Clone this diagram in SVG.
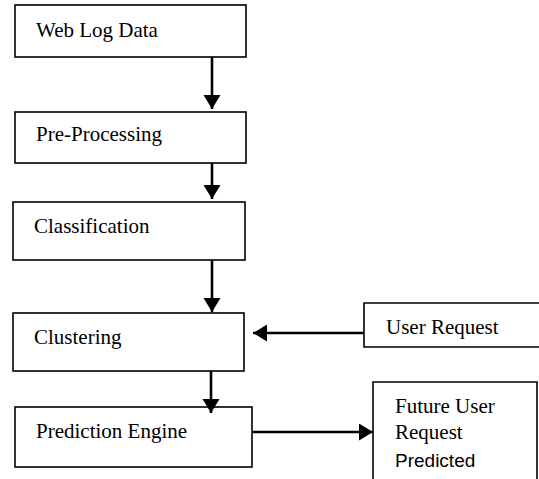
<svg xmlns="http://www.w3.org/2000/svg" width="539" height="479" viewBox="0 0 539 479">
  <style>
    .box { fill: #fff; stroke: #000; stroke-width: 1.6; }
    .lbl { font-family: "Liberation Serif", "Times New Roman", serif; font-size: 21px; fill: #000; }
    .sans { font-family: "Liberation Sans", Arial, sans-serif; font-size: 19px; fill: #000; }
    .edge { stroke: #000; stroke-width: 2.6; fill: none; }
  </style>
  <defs>
    <marker id="arrow" markerUnits="userSpaceOnUse" markerWidth="16" markerHeight="18" refX="14" refY="8.5" orient="auto">
      <path d="M0,0 L14,8.5 L0,17 Z" fill="#000"/>
    </marker>
  </defs>
  <rect width="539" height="479" fill="#fff"/>

  <g id="web-log-data">
    <rect class="box" x="15" y="5" width="231" height="52"/>
    <text class="lbl" x="36" y="37">Web Log Data</text>
  </g>
  <g id="pre-processing">
    <rect class="box" x="15" y="112" width="231" height="51"/>
    <text class="lbl" x="36" y="141">Pre-Processing</text>
  </g>
  <g id="classification">
    <rect class="box" x="13" y="202" width="232" height="58"/>
    <text class="lbl" x="34" y="233">Classification</text>
  </g>
  <g id="clustering">
    <rect class="box" x="13" y="313" width="231" height="58"/>
    <text class="lbl" x="34" y="344">Clustering</text>
  </g>
  <g id="user-request">
    <path class="box" d="M545,303 H364 V347 H545"/>
    <text class="lbl" x="386" y="334">User Request</text>
  </g>
  <g id="prediction-engine">
    <rect class="box" x="15" y="407" width="237" height="60"/>
    <text class="lbl" x="36" y="438">Prediction Engine</text>
  </g>
  <g id="future-user-request">
    <path class="box" d="M373,485 V382 H537 V485"/>
    <text class="lbl" x="395" y="413">Future User</text>
    <text class="lbl" x="395" y="439">Request</text>
    <text class="sans" x="395" y="467">Predicted</text>
  </g>

  <g id="connectors">
    <line class="edge" x1="212" y1="57" x2="212" y2="109" marker-end="url(#arrow)"/>
    <line class="edge" x1="212" y1="163" x2="212" y2="199" marker-end="url(#arrow)"/>
    <line class="edge" x1="212" y1="260" x2="212" y2="312" marker-end="url(#arrow)"/>
    <line class="edge" x1="364" y1="333" x2="253" y2="333" marker-end="url(#arrow)"/>
    <line class="edge" x1="211" y1="371" x2="211" y2="413" marker-end="url(#arrow)"/>
    <line class="edge" x1="252" y1="432" x2="373" y2="432" marker-end="url(#arrow)"/>
  </g>
</svg>
